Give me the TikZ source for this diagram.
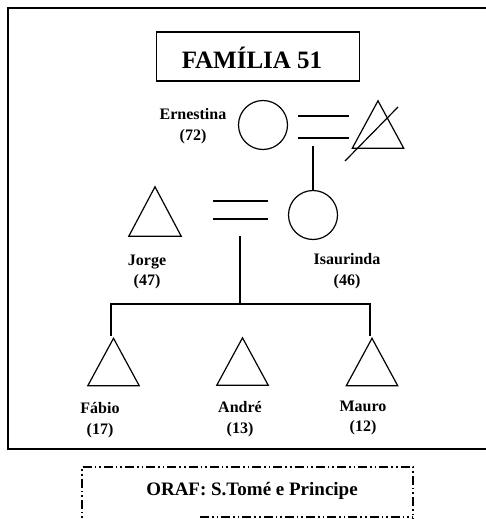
\documentclass[tikz,border=0pt]{standalone}
\usepackage{fontspec}
\setmainfont{Liberation Serif}
\usetikzlibrary{calc}
\begin{document}
\begin{tikzpicture}[x=1pt,y=-1pt,
  line/.style={line width=1.2pt},
  female/.style={circle,draw,line width=1.2pt,minimum size=49pt,inner sep=0pt},
  malebox/.style={minimum width=51pt,minimum height=47pt,inner sep=0pt},
  tri/.style={line width=1.2pt,line join=miter},
  lbl/.style={align=center,font=\fontsize{16}{20.5}\selectfont\bfseries,inner sep=0pt},
  frame/.style={line width=1.5pt},
  dashdot/.style={line width=1.8pt,dash pattern=on 9pt off 3pt on 1.6pt off 3pt on 1.6pt off 3pt}]
\useasboundingbox (0,0) rectangle (486,519);

% outer frame (open on the right)
\draw[frame] (490,8) -- (8,8) -- (8,449) -- (490,449);

% title
\node[draw,line width=1.4pt,minimum width=203pt,minimum height=49pt,inner sep=0pt] (title) at (258,56.5) {};
\node[font=\fontsize{25}{30}\selectfont\bfseries,inner sep=0pt] (ttext) at (252,58) {FAMÍLIA 51};

% first generation
\node[female] (ernestina) at (263,125) {};
\node[malebox] (husband) at (378,124.5) {};
\draw[tri] (husband.north) -- (husband.south east) -- (husband.south west) -- cycle;
\coordinate (xa) at (345,161);
\coordinate (xb) at (398,107);
\draw[line] (xa) -- (xb);
\coordinate (m1a) at (298,116); \coordinate (m1b) at (349,116);
\coordinate (m1c) at (298,138); \coordinate (m1d) at (349,138);
\draw[line] (m1a) -- (m1b);
\draw[line] (m1c) -- (m1d);
\coordinate (d1) at (313,146);

% second generation
\node[female] (isaurinda) at (313,215) {};
\draw[line] (d1) -- (isaurinda.north);
\node[malebox,minimum width=52pt,minimum height=49pt] (jorge) at (155,211.5) {};
\draw[tri] (jorge.north) -- (jorge.south east) -- (jorge.south west) -- cycle;
\coordinate (m2a) at (213,201); \coordinate (m2b) at (268,201);
\coordinate (m2c) at (213,219); \coordinate (m2d) at (268,219);
\draw[line] (m2a) -- (m2b);
\draw[line] (m2c) -- (m2d);

% third generation
\node[malebox] (fabio) at (113.5,362) {};
\node[malebox] (andre) at (242.5,361.5) {};
\node[malebox] (mauro) at (372,362) {};
\foreach \c in {fabio,andre,mauro}
  \draw[tri] (\c.north) -- (\c.south east) -- (\c.south west) -- cycle;

\coordinate (d2) at (240,236);
\coordinate (sib) at (240,304);
\coordinate (sibl) at (111,304);
\coordinate (sibr) at (370,304);
\coordinate (dropl) at (111,336);
\coordinate (dropr) at (370,336);
\draw[line] (d2) -- (sib);
\draw[line] (dropl) -- (sibl) -- (sibr) -- (dropr);

% labels
\node[lbl] (lern) at (193,126) {Ernestina\\(72)};
\node[lbl] (ljor) at (147,272) {Jorge\\(47)};
\node[lbl] (lisa) at (347,271) {Isaurinda\\(46)};
\node[lbl] (lfab) at (100,420) {Fábio\\(17)};
\node[lbl] (land) at (240,419) {André\\(13)};
\node[lbl] (lmau) at (363,418) {Mauro\\(12)};

% source box
\draw[dashdot] (82,530) -- (82,467) -- (413,467) -- (413,530);
\draw[dashdot] (200,517) -- (413,517);
\node[font=\fontsize{19}{23}\selectfont\bfseries,inner sep=0pt] (src) at (252,491) {ORAF: S.Tomé e Principe};
\end{tikzpicture}
\end{document}
